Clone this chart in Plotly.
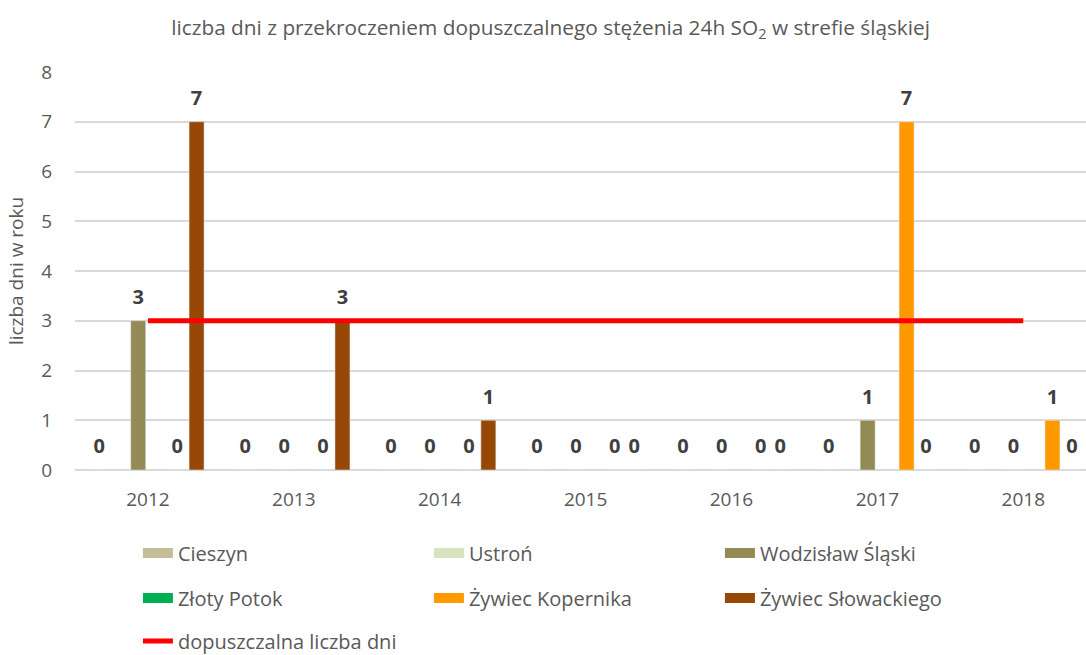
import plotly.graph_objects as go

# ---- data ----
years = ["2012", "2013", "2014", "2015", "2016", "2017", "2018"]
cieszyn = [0, 0, 0, 0, 0, 0, 0]
ustron = [None, None, None, None, None, None, None]
wodzislaw = [3, 0, 0, 0, 0, 1, 0]
zloty_potok = [None, None, None, None, None, None, None]
zywiec_kopernika = [0, 0, 0, 0, 0, 7, 1]
zywiec_slowackiego = [7, 3, 1, 0, 0, 0, 0]
limit_days = [3, 3, 3, 3, 3, 3, 3]

series_names = ["Cieszyn", "Ustroń", "Wodzisław Śląski",
                "Złoty Potok", "Żywiec Kopernika", "Żywiec Słowackiego"]
series_values = [cieszyn, ustron, wodzislaw, zloty_potok, zywiec_kopernika, zywiec_slowackiego]
series_colors = ["#C4BD97", "#D7E4BD", "#948A54", "#00B050", "#FF9900", "#974706"]
series_legends = ["legend", "legend", "legend", "legend2", "legend2", "legend2"]
limit_name = "dopuszczalna liczba dni"

FONT = "Open Sans"
GREY = "#595959"

fig = go.Figure()

for name, vals, col in zip(series_names, series_values, series_colors):
    fig.add_trace(go.Bar(
        x=years, y=vals, name=name, marker_color=col,
        offsetgroup=name, alignmentgroup="bars", legendgroup=name,
        showlegend=False, hoverinfo="skip",
    ))

# data labels (grouped scatter aligned with bars)
for name, vals in zip(series_names, series_values):
    fig.add_trace(go.Scatter(
        x=years, y=vals, mode="markers+text", orientation="v",
        offsetgroup=name, alignmentgroup="labels", legendgroup=name,
        showlegend=False, hoverinfo="skip",
        marker=dict(size=17, opacity=0, color="white"),
        text=[("" if v is None else str(v)) for v in vals],
        textposition="top center",
        textfont=dict(family=FONT, size=20, color="#404040", weight="bold"),
        cliponaxis=False,
    ))

# legend swatches (wide rectangles like the original)
for name, col, lg in zip(series_names, series_colors, series_legends):
    fig.add_trace(go.Scatter(
        x=[None], y=[None], mode="lines", name=name, legend=lg,
        legendgroup=name, line=dict(color=col, width=14),
        offsetgroup="sw_" + name, alignmentgroup="sw_" + name,
        hoverinfo="skip",
    ))

fig.add_trace(go.Scatter(
    x=years, y=limit_days, name=limit_name, mode="lines",
    offsetgroup="limit", alignmentgroup="limit", orientation="v",
    line=dict(color="#FF0000", width=5), legend="legend3", hoverinfo="skip",
))

leg_common = dict(orientation="h", xanchor="left", yanchor="middle",
                  entrywidth=246, entrywidthmode="pixels",
                  font=dict(family=FONT, size=20, color=GREY),
                  bgcolor="rgba(0,0,0,0)",
                  xref="container", yref="container", x=0.127)

fig.update_layout(
    width=1086, height=655,
    paper_bgcolor="white", plot_bgcolor="white",
    margin=dict(l=75, r=0, t=72, b=185, autoexpand=False),
    font=dict(family=FONT, color=GREY),
    title=dict(text="liczba dni z przekroczeniem dopuszczalnego stężenia 24h SO<sub>2</sub> w strefie śląskiej",
               x=0.507, xref="container", xanchor="center",
               y=0.958, yref="container", yanchor="middle",
               font=dict(family=FONT, size=20.8, color=GREY)),
    barmode="group", bargap=0.2, bargroupgap=0.23,
    scattermode="group", scattergap=0.2,
    legend=dict(**leg_common, y=1 - 553 / 655),
    legend2=dict(**leg_common, y=1 - 598 / 655),
    legend3=dict(**leg_common, y=1 - 641 / 655),
    xaxis=dict(type="category", range=[-0.5, 6.43], showgrid=False,
               showline=False, zeroline=False, ticks="", automargin=False,
               tickfont=dict(family=FONT, size=19, color=GREY),
               ticklabelstandoff=16),
    yaxis=dict(range=[0, 8], dtick=1, showgrid=True, gridcolor="#D9D9D9",
               gridwidth=1.5, zeroline=True, zerolinecolor="#D9D9D9", zerolinewidth=1.5,
               showline=False, ticks="", automargin=False,
               tickfont=dict(family=FONT, size=19, color=GREY),
               ticklabelstandoff=22,
               title=dict(text="liczba dni w roku", standoff=12,
                          font=dict(family=FONT, size=19, color=GREY))),
)

fig.write_html("out.html", config={"displayModeBar": False},
               post_script="document.body.style.margin='0';")
